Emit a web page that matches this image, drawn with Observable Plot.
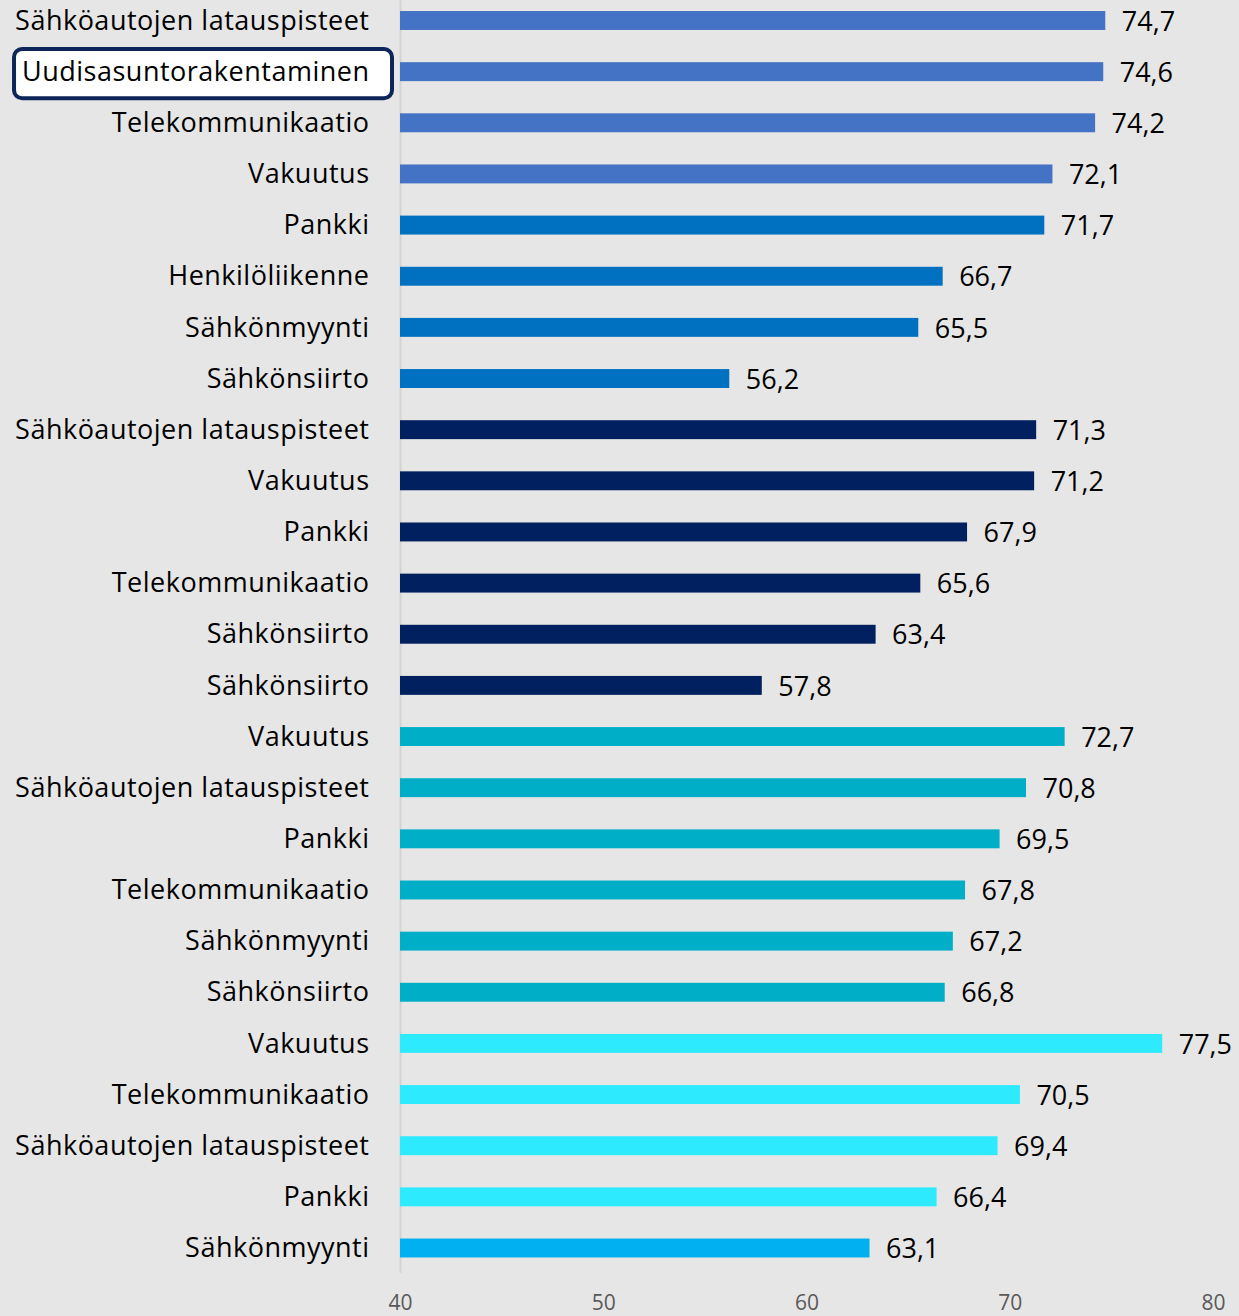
<!DOCTYPE html>
<html>
<head>
<meta charset="utf-8">
<script src="https://cdn.jsdelivr.net/npm/d3@7"></script>
<script src="https://cdn.jsdelivr.net/npm/@observablehq/plot@0.6"></script>
<style>
  html, body { margin: 0; padding: 0; background: #e7e6e6; }
  #chart svg { display: block; }
  #chart svg text.cat { letter-spacing: 0.5px; }
</style>
</head>
<body>
<div id="chart"></div>
<script>
const labels = [
  "Sähköautojen latauspisteet", "Uudisasuntorakentaminen", "Telekommunikaatio", "Vakuutus",
  "Pankki", "Henkilöliikenne", "Sähkönmyynti", "Sähkönsiirto",
  "Sähköautojen latauspisteet", "Vakuutus", "Pankki", "Telekommunikaatio", "Sähkönsiirto", "Sähkönsiirto",
  "Vakuutus", "Sähköautojen latauspisteet", "Pankki", "Telekommunikaatio", "Sähkönmyynti", "Sähkönsiirto",
  "Vakuutus", "Telekommunikaatio", "Sähköautojen latauspisteet", "Pankki", "Sähkönmyynti"
];
const values = [
  74.7, 74.6, 74.2, 72.1,
  71.7, 66.7, 65.5, 56.2,
  71.3, 71.2, 67.9, 65.6, 63.4, 57.8,
  72.7, 70.8, 69.5, 67.8, 67.2, 66.8,
  77.5, 70.5, 69.4, 66.4, 63.1
];
const groups = [
  0, 0, 0, 0,
  1, 1, 1, 1,
  2, 2, 2, 2, 2, 2,
  3, 3, 3, 3, 3, 3,
  4, 4, 4, 4, 5
];
const groupColors = ["#4472C4", "#0070C0", "#002060", "#00AEC7", "#2EEAFF", "#00B0F0"];
const xTicks = [40, 50, 60, 70, 80];
const baseline = 40;
const highlightIndex = 1;

const rows = labels.map((label, i) => ({i, label, value: values[i], g: groups[i]}));
const fmt = v => d3.format(".1f")(v).replace(".", ",");

const W = 1239, H = 1316;
const n = rows.length;
const marginBottom = 43;
const firstCenter = 20.5, lastCenter = 1248;
const step = (lastCenter - firstCenter) / (n - 1);

const plot = Plot.plot({
  width: W,
  height: H,
  marginLeft: 400,
  marginRight: 26,
  marginTop: 0,
  marginBottom,
  style: {background: "#e7e6e6", fontFamily: "'Open Sans', sans-serif", overflow: "visible"},
  x: {domain: [xTicks[0], xTicks[xTicks.length - 1]], label: null},
  y: {
    domain: d3.range(n),
    range: [firstCenter - step / 2, lastCenter + step / 2],
    paddingInner: 0.63,
    paddingOuter: 0.315,
    round: false,
    axis: null
  },
  color: {type: "ordinal", domain: d3.range(groupColors.length), range: groupColors},
  marks: [
    Plot.ruleX([baseline], {stroke: "#d4d4d4", strokeWidth: 2}),
    Plot.barX(rows, {x1: baseline, x2: "value", y: "i", fill: "g"}),
    Plot.text(rows, {
      x: "value", y: "i", text: d => fmt(d.value),
      dx: 16, dy: 1, textAnchor: "start", fontSize: 27, fill: "#000"
    }),
    Plot.text(rows, {
      x: baseline, y: "i", text: "label",
      dx: -31, textAnchor: "end", fontSize: 27, fill: "#000"
    }),
    Plot.axisX({ticks: xTicks, tickSize: 0, tickPadding: 22, fontSize: 21, color: "#595959", label: null, tickFormat: d => String(d)})
  ]
});

document.getElementById("chart").appendChild(plot);

// mark category label texts and draw highlight box around the selected one
(function () {
  const svg = plot;
  const all = Array.from(svg.querySelectorAll("text"));
  const xs = plot.scale("x");
  const ys = plot.scale("y");
  const axisX = xs.apply(baseline);
  const s = svg.getBoundingClientRect();
  const catTexts = all.filter(t => labels.includes(t.textContent));
  catTexts.forEach(t => t.classList.add("cat"));
  const t = catTexts[highlightIndex];
  if (!t) return;
  const r = t.getBoundingClientRect();
  const bars = Array.from(svg.querySelectorAll('g[aria-label="bar"] rect'));
  let cy;
  if (bars[highlightIndex]) {
    const br = bars[highlightIndex].getBoundingClientRect();
    cy = (br.top + br.bottom) / 2 - s.top;
  } else {
    cy = ys.apply(highlightIndex) + ys.bandwidth / 2;
  }
  cy += 2;
  const x0 = r.left - s.left - 8;
  const x1 = axisX - 8;
  const h = ys.step - 2;
  const rect = document.createElementNS("http://www.w3.org/2000/svg", "rect");
  rect.setAttribute("x", x0);
  rect.setAttribute("y", cy - h / 2);
  rect.setAttribute("width", x1 - x0);
  rect.setAttribute("height", h);
  rect.setAttribute("rx", 8);
  rect.setAttribute("fill", "#ffffff");
  rect.setAttribute("stroke", "#0d2558");
  rect.setAttribute("stroke-width", 4);
  let node = t;
  while (node.parentNode && node.parentNode !== svg) node = node.parentNode;
  svg.insertBefore(rect, node);
})();
</script>
</body>
</html>
